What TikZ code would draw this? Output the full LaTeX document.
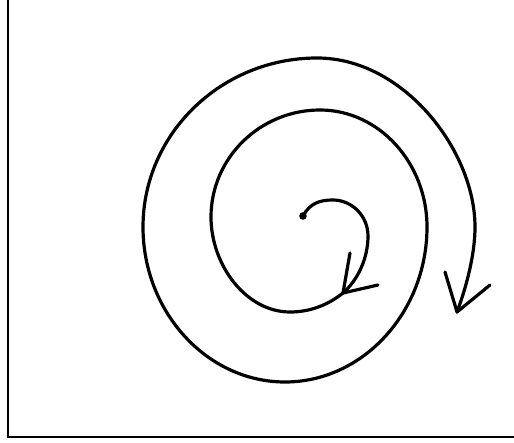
\documentclass[tikz,border=0pt]{standalone}
\begin{document}
\begin{tikzpicture}[x=1pt,y=-1pt,
  ink/.style={line width=3.2pt,line cap=round,line join=round,black},
  frameline/.style={line width=1.6pt,black}]
\useasboundingbox (0,0) rectangle (514,443);
% frame
\draw[frameline] (8,0) -- (8,437) -- (514,437);
% spiral
\coordinate (dot) at (303,216);
\coordinate (tipA) at (343,293);
\coordinate (tipB) at (457,312);
\fill (dot) circle (3.8);
\draw[ink] (dot)
  .. controls (310,203) and (320,200) .. (333,200)
  .. controls (352,200) and (368,216) .. (368,236)
  .. controls (368,258) and (358,280) .. (tipA)
  .. controls (328,305) and (310,312) .. (290,312)
  .. controls (246,312) and (211,265) .. (211,217)
  .. controls (211,158) and (260,110) .. (320,110)
  .. controls (379,110) and (427,163) .. (427,227)
  .. controls (427,312) and (363,382) .. (285,382)
  .. controls (207,382) and (143,312) .. (143,227)
  .. controls (143,134) and (221,58) .. (317,58)
  .. controls (404,58) and (475,151) .. (475,227)
  .. controls (475,255) and (466,288) .. (tipB);
% arrow heads
\draw[ink] (350,253) -- (tipA) -- (378,285);
\draw[ink] (445,272) -- (tipB) -- (490,285);
\end{tikzpicture}
\end{document}
